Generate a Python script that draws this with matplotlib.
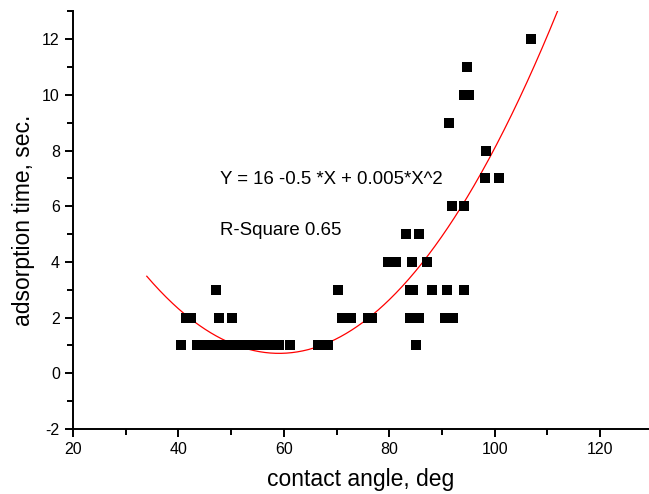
import numpy as np
import matplotlib
matplotlib.use("Agg")
import matplotlib.pyplot as plt
from matplotlib.ticker import MultipleLocator

plt.rcParams['font.family'] = ['Liberation Sans', 'DejaVu Sans']
plt.rcParams['axes.unicode_minus'] = False

# contact angle (deg) and adsorption time (sec)
contact_angle = [
    40.4, 41.4, 42.3, 43.6, 44.5, 45.5, 46.5, 47.5, 48.5, 49.5, 50.5, 51.5,
    52.5, 53.5, 54.5, 55.5, 56.5, 57.5, 58.3, 59.0, 61.2, 47.2, 47.7, 50.1,
    66.5, 68.4, 70.2, 71.0, 72.8, 75.9, 76.8, 79.7, 81.3, 83.1, 84.3, 85.6,
    87.2, 83.9, 84.5, 85.7, 88.1, 90.9, 94.2, 83.9, 85.7, 90.5, 92.2, 85.1,
    92.0, 94.1, 98.2, 100.8, 98.3, 91.3, 94.1, 95.1, 94.8, 106.9,
]
adsorption_time = [
    1, 2, 2, 1, 1, 1, 1, 1, 1, 1, 1, 1,
    1, 1, 1, 1, 1, 1, 1, 1, 1, 3, 2, 2,
    1, 1, 3, 2, 2, 2, 2, 4, 4, 5, 4, 5,
    4, 3, 3, 2, 3, 3, 3, 2, 2, 2, 2, 1,
    6, 6, 7, 7, 8, 9, 10, 10, 11, 12,
]

# quadratic fit coefficients (Y = a + b*X + c*X^2)
fit_a = 16.08
fit_b = -0.520
fit_c = 0.0044
fit_range = [34.0, 116.0]

equation_text = "Y = 16 -0.5 *X + 0.005*X^2"
rsq_text = "R-Square 0.65"

fig = plt.figure(figsize=(6.49, 4.94), dpi=100)
ax = fig.add_axes([0.1125, 0.1316, 0.8875, 0.8454])

ax.plot(contact_angle, adsorption_time, linestyle='none', marker='s',
        markersize=6.9, markeredgewidth=0, color='black', zorder=3)

xf = np.linspace(fit_range[0], fit_range[1], 400)
yf = fit_a + fit_b * xf + fit_c * xf ** 2
ax.plot(xf, yf, color='red', linewidth=0.9, zorder=2)

ax.set_xlim(20, 129.3)
ax.set_ylim(-2, 13)
ax.xaxis.set_major_locator(MultipleLocator(20))
ax.xaxis.set_minor_locator(MultipleLocator(10))
ax.yaxis.set_major_locator(MultipleLocator(2))
ax.yaxis.set_minor_locator(MultipleLocator(1))

for s in ['top', 'right']:
    ax.spines[s].set_visible(False)
for s in ['left', 'bottom']:
    ax.spines[s].set_linewidth(1.4)

ax.tick_params(which='major', direction='out', length=6, width=1.4,
               labelsize=11.5)
ax.tick_params(which='minor', direction='out', length=4, width=1.4)

ax.set_xlabel("contact angle, deg", fontsize=16.5, labelpad=8)
ax.set_ylabel("adsorption time, sec.", fontsize=16.5, labelpad=5)

ax.text(47.9, 6.97, equation_text, fontsize=13.4, va='center', ha='left')
ax.text(47.9, 5.13, rsq_text, fontsize=13.4, va='center', ha='left')

fig.savefig("out.png", dpi=100)
